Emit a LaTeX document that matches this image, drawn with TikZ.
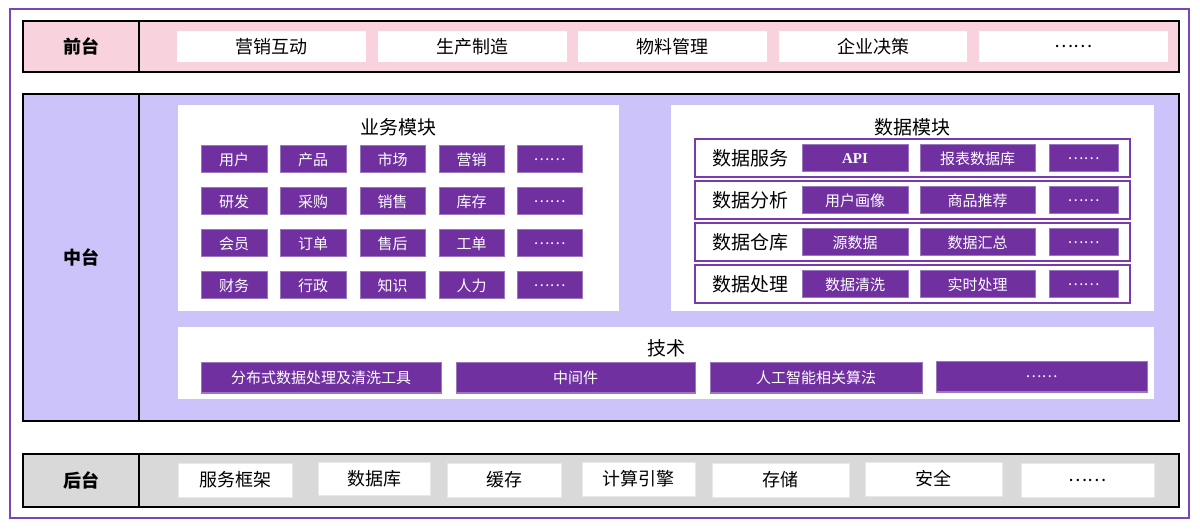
\documentclass[tikz,border=0pt]{standalone}
\usepackage{fontspec}
\setmainfont{Liberation Serif}
\newfontfamily\cjk{Noto Sans CJK SC}
\definecolor{pinkc}{HTML}{F8D3DE}
\definecolor{lavc}{HTML}{CBC3FA}
\definecolor{grayc}{HTML}{D9D9D9}
\definecolor{boxc}{HTML}{7030A0}
\definecolor{boxedge}{HTML}{9A78C0}
\definecolor{framec}{HTML}{7E45B5}
\definecolor{rowc}{HTML}{7A3AAE}
\newcommand\bx[7]{\node[#6, minimum width={(#4-#2)*1pt}, minimum height={(#5-#3)*1pt}] (#1) at ({(#2+#4)/2},{(#3+#5)/2}) {#7};}
\begin{document}
\begin{tikzpicture}[x=1pt,y=-1pt,
  every node/.style={inner sep=0pt, outer sep=0pt},
  band/.style={draw=black, line width=2pt},
  lbl/.style={band, font=\cjk\bfseries\fontsize{18}{18}\selectfont},
  item/.style={fill=white, font=\cjk\fontsize{18}{18}\selectfont},
  bitem/.style={item, draw=grayc!60, line width=0.8pt},
  panel/.style={fill=white},
  ttl/.style={font=\cjk\fontsize{19}{19}\selectfont},
  pbox/.style={fill=boxc, draw=boxedge, line width=1pt, text=white, font=\cjk\fontsize{15}{15}\selectfont},
  drow/.style={draw=rowc, line width=2pt, fill=white},
  dlbl/.style={font=\cjk\fontsize{19}{19}\selectfont}]
\useasboundingbox (0,0) rectangle (1200,529);
\fill[white] (0,0) rectangle (1200,529);
\bx{outer}{10}{9}{1189}{518}{draw=framec, line width=1.6pt}{}
% front
\bx{qtl}{23}{21}{139}{72}{lbl, fill=pinkc}{前台}
\bx{qtb}{139}{21}{1179}{72}{band, fill=pinkc}{}
\bx{q1}{177}{31}{366}{62}{item}{营销互动}
\bx{q2}{378}{31}{567}{62}{item}{生产制造}
\bx{q3}{578}{31}{767}{62}{item}{物料管理}
\bx{q4}{779}{31}{967}{62}{item}{企业决策}
\bx{q5}{979}{31}{1168}{62}{item}{……}
% middle
\bx{ztl}{23}{94}{139}{421}{lbl, fill=lavc}{中台}
\bx{ztb}{139}{94}{1179}{421}{band, fill=lavc}{}
\bx{bizp}{178}{105}{619}{311}{panel}{}
\node[ttl] (bizt) at (398,127) {\cjk 业务模块};
\foreach \r/\y in {1/146,2/188,3/230,4/272}{
  \foreach \c/\xa/\xb in {1/201/267,2/280/346,3/360/425,4/439/504,5/517/582}{
    \bx{b\r\c}{\xa}{\y}{\xb}{\y+27}{pbox}{}
  }
}
\tikzset{pt/.style={font=\cjk\fontsize{15}{15}\selectfont, text=white}}
\node[pt] (tb11) at (b11) {用户};
\node[pt] (tb12) at (b12) {产品};
\node[pt] (tb13) at (b13) {市场};
\node[pt] (tb14) at (b14) {营销};
\node[pt] (tb15) at (b15) {……};
\node[pt] (tb21) at (b21) {研发};
\node[pt] (tb22) at (b22) {采购};
\node[pt] (tb23) at (b23) {销售};
\node[pt] (tb24) at (b24) {库存};
\node[pt] (tb25) at (b25) {……};
\node[pt] (tb31) at (b31) {会员};
\node[pt] (tb32) at (b32) {订单};
\node[pt] (tb33) at (b33) {售后};
\node[pt] (tb34) at (b34) {工单};
\node[pt] (tb35) at (b35) {……};
\node[pt] (tb41) at (b41) {财务};
\node[pt] (tb42) at (b42) {行政};
\node[pt] (tb43) at (b43) {知识};
\node[pt] (tb44) at (b44) {人力};
\node[pt] (tb45) at (b45) {……};
% data module
\bx{datp}{671}{105}{1154}{311}{panel}{}
\node[ttl] (datt) at (912,127) {\cjk 数据模块};
\bx{dr1}{695}{139}{1130}{177}{drow}{}
\bx{dr2}{695}{181}{1130}{219}{drow}{}
\bx{dr3}{695}{223}{1130}{261}{drow}{}
\bx{dr4}{695}{265}{1130}{303}{drow}{}
\node[dlbl] (dl1) at (750,158) {数据服务};
\node[dlbl] (dl2) at (750,200) {数据分析};
\node[dlbl] (dl3) at (750,242) {数据仓库};
\node[dlbl] (dl4) at (750,284) {数据处理};
\bx{d11}{802}{145}{908}{172}{pbox, font=\bfseries\fontsize{15}{15}\selectfont}{API}
\bx{d12}{920}{145}{1035}{172}{pbox}{报表数据库}
\bx{d13}{1049}{145}{1118}{172}{pbox}{……}
\bx{d21}{802}{187}{908}{214}{pbox}{用户画像}
\bx{d22}{920}{187}{1035}{214}{pbox}{商品推荐}
\bx{d23}{1049}{187}{1118}{214}{pbox}{……}
\bx{d31}{802}{229}{908}{256}{pbox}{源数据}
\bx{d32}{920}{229}{1035}{256}{pbox}{数据汇总}
\bx{d33}{1049}{229}{1118}{256}{pbox}{……}
\bx{d41}{802}{271}{908}{298}{pbox}{数据清洗}
\bx{d42}{920}{271}{1035}{298}{pbox}{实时处理}
\bx{d43}{1049}{271}{1118}{298}{pbox}{……}
% tech
\bx{tecp}{178}{327}{1154}{399}{panel}{}
\node[ttl] (tect) at (666,348) {\cjk 技术};
\bx{t1}{201}{363}{441}{393}{pbox}{分布式数据处理及清洗工具}
\bx{t2}{456}{363}{695}{393}{pbox}{中间件}
\bx{t3}{710}{363}{922}{393}{pbox}{人工智能相关算法}
\bx{t4}{936}{362}{1147}{392}{pbox}{……}
% back
\bx{htl}{23}{454}{139}{507}{lbl, fill=grayc}{后台}
\bx{htb}{139}{454}{1179}{507}{band, fill=grayc}{}
\bx{h1}{178}{463}{292}{497}{bitem}{服务框架}
\bx{h2}{318}{462}{430}{495}{bitem}{数据库}
\bx{h3}{447}{463}{561}{497}{bitem}{缓存}
\bx{h4}{582}{462}{695}{496}{bitem}{计算引擎}
\bx{h5}{712}{463}{849}{497}{bitem}{存储}
\bx{h6}{865}{462}{1002}{496}{bitem}{安全}
\bx{h7}{1021}{463}{1154}{497}{bitem}{……}
\end{tikzpicture}
\end{document}
